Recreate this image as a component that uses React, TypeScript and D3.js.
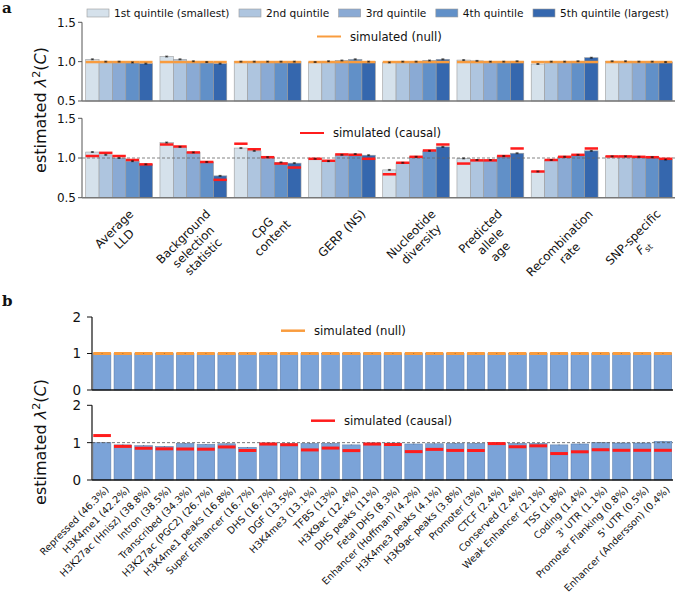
import React, { useEffect, useRef } from "react";
import * as d3 from "d3";

// ---------- DATA ----------
const quintiles = [
  "1st quintile (smallest)",
  "2nd quintile",
  "3rd quintile",
  "4th quintile",
  "5th quintile (largest)",
];
const featuresA = [
  "Average\nLLD",
  "Background\nselection\nstatistic",
  "CpG\ncontent",
  "GERP (NS)",
  "Nucleotide\ndiversity",
  "Predicted\nallele\nage",
  "Recombination\nrate",
  "SNP-specific\nF_st",
];
const nullEstA = [
  [1.03, 1.0, 1.0, 0.99, 0.975],
  [1.065, 1.03, 1.005, 0.995, 0.975],
  [1.0, 1.0, 1.0, 1.0, 1.0],
  [0.995, 1.005, 1.015, 1.03, 1.0],
  [0.99, 1.0, 1.0, 1.015, 1.03],
  [1.02, 1.01, 1.0, 1.0, 1.005],
  [0.97, 1.0, 1.0, 1.005, 1.05],
  [1.005, 1.005, 1.0, 1.0, 0.995],
];
const nullSimA = [
  [0.995, 0.995, 0.995, 0.995, 0.995],
  [0.995, 0.995, 0.995, 0.995, 0.995],
  [0.995, 0.995, 0.995, 0.995, 0.995],
  [0.995, 0.995, 0.995, 0.995, 0.995],
  [0.995, 0.995, 0.995, 0.995, 0.995],
  [0.995, 0.995, 0.995, 0.995, 0.995],
  [0.995, 0.995, 0.995, 0.995, 0.995],
  [0.995, 0.995, 0.995, 0.995, 0.995],
];
const causalEstA = [
  [1.075, 1.04, 1.0, 0.96, 0.92],
  [1.195, 1.14, 1.07, 0.95, 0.775],
  [1.125, 1.09, 1.01, 0.945, 0.935],
  [0.99, 0.96, 1.04, 1.05, 1.035],
  [0.85, 0.94, 1.015, 1.09, 1.14],
  [0.995, 0.975, 0.975, 1.025, 1.06],
  [0.83, 0.975, 1.015, 1.04, 1.09],
  [1.02, 1.02, 1.015, 1.01, 0.98],
];
const causalSimA = [
  [1.025, 1.065, 1.025, 0.975, 0.92],
  [1.17, 1.145, 1.07, 0.95, 0.725],
  [1.18, 1.11, 1.01, 0.93, 0.88],
  [0.99, 0.965, 1.045, 1.04, 0.99],
  [0.795, 0.94, 1.015, 1.095, 1.17],
  [0.93, 0.97, 0.97, 1.025, 1.12],
  [0.83, 0.975, 1.015, 1.04, 1.12],
  [1.02, 1.02, 1.015, 1.01, 0.99],
];
const ticksA = [0.5, 1.0, 1.5];

const categoriesB = [
  "Repressed (46.3%)",
  "H3K4me1 (42.2%)",
  "H3K27ac (Hnisz) (38.8%)",
  "Intron (38.5%)",
  "Transcribed (34.3%)",
  "H3K27ac (PGC2) (26.7%)",
  "H3K4me1 peaks (16.8%)",
  "Super Enhancer (16.7%)",
  "DHS (16.7%)",
  "DGF (13.5%)",
  "H3K4me3 (13.1%)",
  "TFBS (13%)",
  "H3K9ac (12.4%)",
  "DHS peaks (11%)",
  "Fetal DHS (8.3%)",
  "Enhancer (Hoffman) (4.2%)",
  "H3K4me3 peaks (4.1%)",
  "H3K9ac peaks (3.8%)",
  "Promoter (3%)",
  "CTCF (2.4%)",
  "Conserved (2.4%)",
  "Weak Enhancer (2.1%)",
  "TSS (1.8%)",
  "Coding (1.4%)",
  "3' UTR (1.1%)",
  "Promoter Flanking (0.8%)",
  "5' UTR (0.5%)",
  "Enhancer (Andersson) (0.4%)",
];
const nullEstB = [
  1.0, 1.0, 1.0, 1.0, 1.0, 1.0, 1.0, 1.0, 1.0, 1.0, 1.0, 1.0, 1.0, 1.0,
  1.0, 1.0, 1.0, 1.0, 1.0, 1.0, 1.0, 1.0, 1.0, 1.0, 1.0, 1.0, 1.0, 1.005,
];
const nullSimB = [
  1.0, 1.0, 1.0, 1.0, 1.0, 1.0, 1.0, 1.0, 1.0, 1.0, 1.0, 1.0, 1.0, 1.0,
  1.0, 1.0, 1.0, 1.0, 1.0, 1.0, 1.0, 1.0, 1.0, 1.0, 1.0, 1.0, 1.0, 1.0,
];
const causalEstB = [
  1.0, 0.94, 0.92, 0.9, 0.98, 0.955, 0.97, 0.875, 0.99, 0.97, 0.98, 0.98,
  0.94, 0.99, 0.99, 0.965, 0.97, 0.98, 0.98, 0.99, 0.98, 0.98, 0.94, 0.965,
  1.0, 0.99, 0.99, 1.035,
];
const causalSimB = [
  1.19, 0.9, 0.85, 0.835, 0.83, 0.825, 0.885, 0.79, 0.962, 0.945, 0.805,
  0.855, 0.787, 0.962, 0.95, 0.76, 0.82, 0.792, 0.79, 0.975, 0.89, 0.915,
  0.708, 0.755, 0.81, 0.795, 0.795, 0.795,
];
const ticksB = [0, 1, 2];
const ERR_A = 0.006;
const ERR_B = 0.008;

// ---------- STYLE ----------
const FONT = "DejaVu Sans, sans-serif";
const qColors = ["#d5e1eb", "#aec5df", "#8aaad4", "#6190c8", "#3567ae"];
const barB = "#7ba3d8";
const ORANGE = "#f99c3e";
const RED = "#ff1c1c";

export default function App() {
  const ref = useRef<SVGSVGElement>(null);

  useEffect(() => {
    const svg = d3.select(ref.current as SVGSVGElement);
    svg.selectAll("*").remove();
    svg.append("rect").attr("width", 675).attr("height", 599).attr("fill", "white");

    const rotLabel = (
      parent: any,
      lines: string[],
      ax: number,
      topY: number,
      align: "center" | "right",
      fs: number
    ) => {
      const g = parent.append("g");
      const t = g
        .append("text")
        .attr("font-family", FONT)
        .attr("font-size", fs)
        .attr("fill", "#111")
        .attr("text-anchor", "middle");
      lines.forEach((ln, k) => {
        const ts = t.append("tspan").attr("x", 0).attr("dy", k === 0 ? 0 : "1.2em");
        if (ln === "F_st") {
          ts.append("tspan").attr("font-style", "italic").text("F");
          ts.append("tspan").attr("font-size", fs * 0.7).attr("dy", fs * 0.25).text("st");
        } else ts.text(ln);
      });
      const bb = (t.node() as SVGTextElement).getBBox();
      const s = (bb.width + bb.height) / Math.SQRT2;
      const cx = align === "center" ? ax : ax - s / 2;
      const cy = topY + s / 2;
      g.attr(
        "transform",
        `translate(${cx},${cy}) rotate(-45) translate(${-(bb.x + bb.width / 2)},${-(bb.y + bb.height / 2)})`
      );
    };

    const yLabel = (cx: number, cy: number, fs: number) => {
      const t = svg
        .append("text")
        .attr("transform", `translate(${cx},${cy}) rotate(-90)`)
        .attr("text-anchor", "middle")
        .attr("font-family", FONT)
        .attr("font-size", fs)
        .attr("fill", "#111");
      t.append("tspan").text("estimated ");
      t.append("tspan").attr("font-style", "italic").text("λ");
      t.append("tspan").attr("font-size", fs * 0.7).attr("dy", -fs * 0.4).text("2");
      t.append("tspan").attr("dy", fs * 0.4).text("(");
      t.append("tspan").attr("font-style", "italic").text("C");
      t.append("tspan").text(")");
    };

    const legendLine = (x: number, y: number, color: string, label: string, fs: number, lw: number) => {
      svg.append("line").attr("x1", x).attr("x2", x + 24).attr("y1", y).attr("y2", y)
        .attr("stroke", color).attr("stroke-width", lw);
      svg.append("text").attr("x", x + 33).attr("y", y).attr("dy", "0.35em")
        .attr("font-family", FONT).attr("font-size", fs).attr("fill", "#111").text(label);
    };

    // ================= PANEL A =================
    const xA = d3.scaleBand<string>().domain(featuresA).range([82, 676]).paddingInner(0.1).paddingOuter(0.05);
    const xQ = d3.scaleBand<string>().domain(quintiles).range([0, xA.bandwidth()]);
    const yAtop = d3.scaleLinear().domain([0.5, 1.5]).range([101, 22.3]);
    const yAbot = d3.scaleLinear().domain([0.5, 1.5]).range([197.7, 118.3]);

    const subplotA = (y: any, est: number[][], sim: number[][], simColor: string, dash: boolean) => {
      const g = svg.append("g");
      featuresA.forEach((f, i) => {
        quintiles.forEach((q, j) => {
          const x0 = (xA(f) as number) + (xQ(q) as number);
          const v = est[i][j];
          g.append("rect").attr("x", x0).attr("y", y(v)).attr("width", xQ.bandwidth())
            .attr("height", y(0.5) - y(v)).attr("fill", qColors[j])
            .attr("stroke", "#9c9c9c").attr("stroke-width", 0.6);
        });
      });
      if (dash) {
        g.append("line").attr("x1", 82).attr("x2", 676).attr("y1", y(1)).attr("y2", y(1))
          .attr("stroke", "#666").attr("stroke-width", 0.8).attr("stroke-dasharray", "3,2");
      }
      featuresA.forEach((f, i) => {
        quintiles.forEach((q, j) => {
          const x0 = (xA(f) as number) + (xQ(q) as number);
          const bw = xQ.bandwidth();
          g.append("line").attr("x1", x0).attr("x2", x0 + bw).attr("y1", y(sim[i][j])).attr("y2", y(sim[i][j]))
            .attr("stroke", simColor).attr("stroke-width", 2.5);
          const v = est[i][j];
          const cx = x0 + bw / 2;
          g.append("line").attr("x1", cx).attr("x2", cx).attr("y1", y(v - ERR_A)).attr("y2", y(v + ERR_A))
            .attr("stroke", "#111").attr("stroke-width", 0.8);
          [v - ERR_A, v + ERR_A].forEach((e) =>
            g.append("line").attr("x1", cx - 1.5).attr("x2", cx + 1.5).attr("y1", y(e)).attr("y2", y(e))
              .attr("stroke", "#111").attr("stroke-width", 0.6)
          );
        });
      });
      g.append("line").attr("x1", 82).attr("x2", 82).attr("y1", y(1.5)).attr("y2", y(0.5))
        .attr("stroke", "#555").attr("stroke-width", 1);
      g.append("line").attr("x1", 82).attr("x2", 676).attr("y1", y(0.5)).attr("y2", y(0.5))
        .attr("stroke", "#777").attr("stroke-width", 1.5);
      ticksA.forEach((tv) => {
        g.append("line").attr("x1", 78).attr("x2", 82).attr("y1", y(tv)).attr("y2", y(tv))
          .attr("stroke", "#555").attr("stroke-width", 1);
        g.append("text").attr("x", 76).attr("y", y(tv)).attr("dy", "0.36em").attr("text-anchor", "end")
          .attr("font-family", FONT).attr("font-size", 12).attr("fill", "#111").text(d3.format(".1f")(tv));
      });
    };

    subplotA(yAtop, nullEstA, nullSimA, ORANGE, false);
    subplotA(yAbot, causalEstA, causalSimA, RED, true);

    let lx = 87;
    quintiles.forEach((q, j) => {
      svg.append("rect").attr("x", lx).attr("y", 9).attr("width", 22).attr("height", 8)
        .attr("fill", qColors[j]).attr("stroke", "#9c9c9c").attr("stroke-width", 0.6);
      const t = svg.append("text").attr("x", lx + 27).attr("y", 13).attr("dy", "0.36em")
        .attr("font-family", FONT).attr("font-size", 10.6).attr("fill", "#111").text(q);
      lx = lx + 27 + (t.node() as SVGTextElement).getComputedTextLength() + 9.5;
    });
    legendLine(317, 36.5, ORANGE, "simulated (null)", 11.7, 2);
    legendLine(300, 133, RED, "simulated (causal)", 11.7, 2);

    featuresA.forEach((f) => {
      const cx = (xA(f) as number) + xA.bandwidth() / 2;
      rotLabel(svg, f.split("\n"), cx, 207, "center", 11.8);
    });

    yLabel(46, 110, 16);
    svg.append("text").attr("x", 2).attr("y", 13).attr("font-family", "DejaVu Serif, serif")
      .attr("font-weight", "bold").attr("font-size", 15).attr("fill", "#111").text("a");

    // ================= PANEL B =================
    const xB = d3.scaleBand<string>().domain(categoriesB).range([92, 673]).paddingInner(0.15).paddingOuter(0.06);
    const yBtop = d3.scaleLinear().domain([0, 2]).range([390, 317]);
    const yBbot = d3.scaleLinear().domain([0, 2]).range([480, 405.3]);

    const subplotB = (y: any, est: number[], sim: number[], simColor: string, dash: boolean) => {
      const g = svg.append("g");
      categoriesB.forEach((c, i) => {
        const x0 = xB(c) as number;
        g.append("rect").attr("x", x0).attr("y", y(est[i])).attr("width", xB.bandwidth())
          .attr("height", y(0) - y(est[i])).attr("fill", barB)
          .attr("stroke", "#5a7aa6").attr("stroke-width", 0.5);
      });
      if (dash) {
        g.append("line").attr("x1", 92).attr("x2", 673).attr("y1", y(1)).attr("y2", y(1))
          .attr("stroke", "#555").attr("stroke-width", 0.8).attr("stroke-dasharray", "3,2");
      }
      categoriesB.forEach((c, i) => {
        const x0 = xB(c) as number;
        const bw = xB.bandwidth();
        g.append("line").attr("x1", x0).attr("x2", x0 + bw).attr("y1", y(sim[i])).attr("y2", y(sim[i]))
          .attr("stroke", simColor).attr("stroke-width", 3);
        const cx = x0 + bw / 2;
        g.append("line").attr("x1", cx).attr("x2", cx).attr("y1", y(est[i] - ERR_B)).attr("y2", y(est[i] + ERR_B))
          .attr("stroke", "#333").attr("stroke-width", 0.7);
      });
      g.append("line").attr("x1", 92).attr("x2", 92).attr("y1", y(2)).attr("y2", y(0))
        .attr("stroke", "#111").attr("stroke-width", 1.2);
      g.append("line").attr("x1", 92).attr("x2", 673).attr("y1", y(0)).attr("y2", y(0))
        .attr("stroke", "#111").attr("stroke-width", 1.5);
      ticksB.forEach((tv) => {
        g.append("line").attr("x1", 87).attr("x2", 92).attr("y1", y(tv)).attr("y2", y(tv))
          .attr("stroke", "#111").attr("stroke-width", 1);
        g.append("text").attr("x", 81).attr("y", y(tv)).attr("dy", "0.36em").attr("text-anchor", "end")
          .attr("font-family", FONT).attr("font-size", 13.5).attr("fill", "#111").text(String(tv));
      });
    };

    subplotB(yBtop, nullEstB, nullSimB, ORANGE, false);
    subplotB(yBbot, causalEstB, causalSimB, RED, true);

    legendLine(281, 330.7, ORANGE, "simulated (null)", 11.7, 2.5);
    legendLine(311, 420.7, RED, "simulated (causal)", 11.7, 2.5);

    categoriesB.forEach((c) => {
      const right = (xB(c) as number) + xB.bandwidth();
      rotLabel(svg, [c], right, 484, "right", 9.8);
    });

    yLabel(46, 442, 16);
    svg.append("text").attr("x", 2).attr("y", 306).attr("font-family", "DejaVu Serif, serif")
      .attr("font-weight", "bold").attr("font-size", 15).attr("fill", "#111").text("b");
  }, []);

  return (
    <svg
      ref={ref}
      width={675}
      height={599}
      style={{ position: "absolute", left: 0, top: 0, display: "block" }}
    />
  );
}
